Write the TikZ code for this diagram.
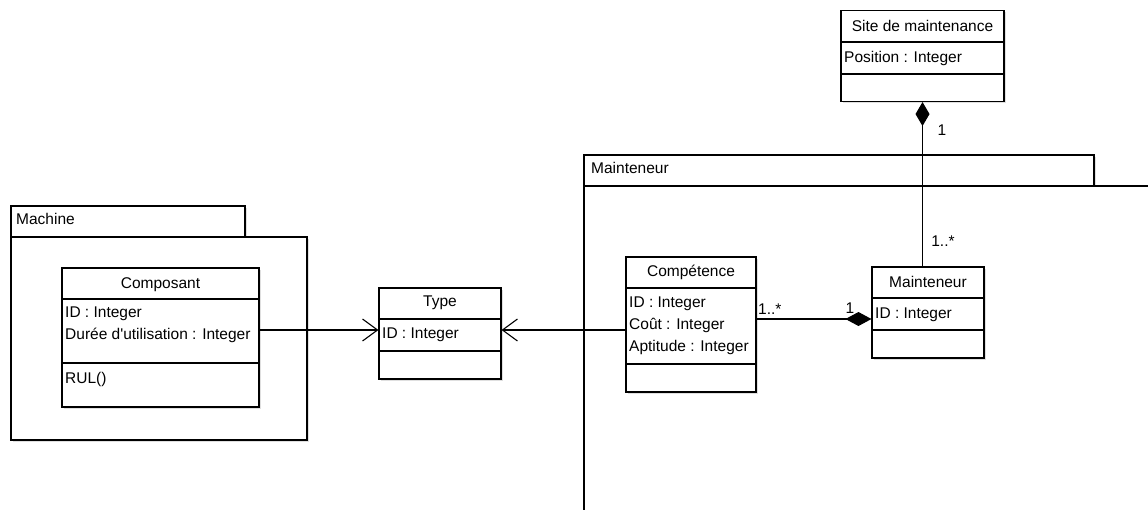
\documentclass[tikz,border=0pt]{standalone}
\usepackage{fontspec}
\setmainfont{Liberation Sans}
\usetikzlibrary{arrows.meta,shadows}
\begin{document}
\begin{tikzpicture}[x=1pt,y=-1pt,
  every node/.style={font=\fontsize{15.5}{18}\selectfont, inner sep=0pt},
  shade/.style={drop shadow={shadow xshift=1.5pt, shadow yshift=-1.5pt, opacity=0.25}},
  classbox/.style={draw, line width=1.1pt, fill=white, shade},
  pkg/.style={draw, line width=1.1pt, fill=white, shade},
  rule/.style={line width=1.1pt},
  txt/.style={anchor=west, text height=11pt, text depth=0pt},
  ctr/.style={text height=11pt, text depth=0pt},
  assoc/.style={line width=1.1pt},
  openarrow/.style={-{Straight Barb[length=15pt, width=22pt, line width=1.1pt]}},
  compo/.style={-{Diamond[length=26pt, width=14pt, fill=black]}},
  compostart/.style={{Diamond[length=24pt, width=14pt, fill=black]}-},
]
\useasboundingbox (0,0) rectangle (1148,509);
\clip (0,0) rectangle (1148,509);
\fill[white] (0,0) rectangle (1148,509);

% ---- package Machine ----
\draw[pkg] (11,206) rectangle (245,237);
\draw[pkg] (11,237) rectangle (307,440);
\node[txt] (pmach) at (16,219) {Machine};

% ---- package Mainteneur (runs past the right and bottom edges) ----
\draw[pkg] (584,155) rectangle (1094,186);
\draw[pkg] (584,186) rectangle (1170,530);
\node[txt] (pmaint) at (591,168) {Mainteneur};

% ---- class Composant ----
\node[classbox, minimum width=197pt, minimum height=139pt] (comp) at (160.5,337.5) {};
\draw[rule] (comp.west |- 0,299) -- (comp.east |- 0,299);
\draw[rule] (comp.west |- 0,363) -- (comp.east |- 0,363);
\node[ctr] (comp-name) at (160.5,283) {Composant};
\node[txt] (comp-a1) at (65,312) {ID : Integer};
\node[txt] (comp-a2) at (65,334) {Durée d\textquotesingle utilisation : Integer};
\node[txt] (comp-op) at (65,378) {RUL()};

% ---- class Type ----
\node[classbox, minimum width=122pt, minimum height=91pt] (type) at (440,333.5) {};
\draw[rule] (type.west |- 0,319) -- (type.east |- 0,319);
\draw[rule] (type.west |- 0,351) -- (type.east |- 0,351);
\node[ctr] (type-name) at (440,301) {Type};
\node[txt] (type-a1) at (382,333) {ID : Integer};

% ---- class Compétence ----
\node[classbox, minimum width=130pt, minimum height=135pt] (cpt) at (691,324.5) {};
\draw[rule] (cpt.west |- 0,288) -- (cpt.east |- 0,288);
\draw[rule] (cpt.west |- 0,364) -- (cpt.east |- 0,364);
\node[ctr] (cpt-name) at (691,271) {Compétence};
\node[txt] (cpt-a1) at (629,302) {ID : Integer};
\node[txt] (cpt-a2) at (629,324) {Coût : Integer};
\node[txt] (cpt-a3) at (629,346) {Aptitude : Integer};

% ---- class Mainteneur ----
\node[classbox, minimum width=112pt, minimum height=91pt] (mcls) at (928,312.5) {};
\draw[rule] (mcls.west |- 0,298) -- (mcls.east |- 0,298);
\draw[rule] (mcls.west |- 0,330) -- (mcls.east |- 0,330);
\node[ctr] (mcls-name) at (928,282) {Mainteneur};
\node[txt] (mcls-a1) at (875,313) {ID : Integer};

% ---- class Site de maintenance ----
\node[classbox, minimum width=163pt, minimum height=91pt] (site) at (922.5,56) {};
\draw[rule] (site.west |- 0,42) -- (site.east |- 0,42);
\draw[rule] (site.west |- 0,74) -- (site.east |- 0,74);
\node[ctr] (site-name) at (922.5,26) {Site de maintenance};
\node[txt] (site-a1) at (844,57) {Position : Integer};

% ---- connectors ----
\coordinate (tw) at ([yshift=3.5pt]type.west);
\coordinate (te) at ([yshift=3.5pt]type.east);
\coordinate (mw) at ([yshift=-6.5pt]mcls.west);
\draw[assoc, openarrow] (comp.east |- tw) -- (tw);
\draw[assoc, openarrow] (cpt.west |- te) -- (te);
\draw[assoc, compo] (cpt.east |- mw) -- (mw);
\draw[assoc, compostart] (site.south) -- (site.south |- mcls.north);

% ---- multiplicities ----
\node[txt] (m1) at (758,309) {1..*};
\node[ctr] (m2) at (850,308) {1};
\node[ctr] (m3) at (943,241) {1..*};
\node[ctr] (m4) at (942,130) {1};
\end{tikzpicture}
\end{document}
